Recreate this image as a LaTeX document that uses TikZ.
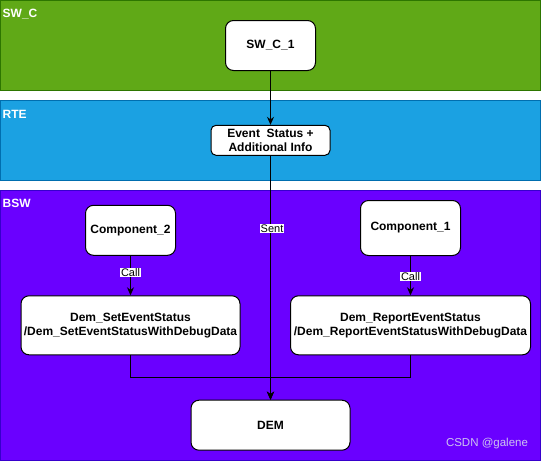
\documentclass[tikz,border=0pt]{standalone}
\usepackage{fontspec}
\setmainfont{Liberation Sans}
\usetikzlibrary{arrows.meta}
\definecolor{swcfill}{HTML}{60A917}
\definecolor{swcdraw}{HTML}{2D7600}
\definecolor{rtefill}{HTML}{1BA1E2}
\definecolor{rtedraw}{HTML}{006EAF}
\definecolor{bswfill}{HTML}{6A00FF}
\definecolor{bswdraw}{HTML}{3700CC}
\definecolor{wmark}{RGB}{205,195,240}
\begin{document}
\begin{tikzpicture}[x=1pt,y=-1pt,
  band/.style={line width=1pt},
  bandlabel/.style={anchor=west,inner sep=0pt,text=white,font=\fontsize{12}{14}\selectfont\bfseries},
  box/.style={draw=black,fill=white,line width=1pt,rounded corners=8pt,inner sep=0pt,align=center,
    font=\fontsize{12}{14}\selectfont\bfseries},
  conn/.style={line width=1pt,draw=black},
  arr/.style={conn,-{Stealth[length=8pt,width=7pt]}},
  lbl/.style={fill=white,inner sep=0.6pt,font=\fontsize{11}{12}\selectfont}
]
\useasboundingbox (0,0) rectangle (541,461);
% bands
\draw[band,fill=swcfill,draw=swcdraw] (0.5,0.5) rectangle (540,90);
\draw[band,fill=rtefill,draw=rtedraw] (0.5,100) rectangle (540,180.5);
\draw[band,fill=bswfill,draw=bswdraw] (0.5,190) rectangle (540,460.5);
\node[bandlabel] (lswc) at (2.5,14) {SW\_C};
\node[bandlabel] (lrte) at (2.5,114) {RTE};
\node[bandlabel] (lbsw) at (2.5,203.5) {BSW};
% nodes
\node[box,minimum width=90pt,minimum height=50pt] (swc1) at (270.5,45.5) {SW\_C\_1};
\node[box,rounded corners=5pt,minimum width=119pt,minimum height=30pt,font=\fontsize{12}{13.5}\selectfont\bfseries] (evt) at (270.5,140.3) {Event\ \ Status +\\Additional Info};
\node[box,minimum width=90pt,minimum height=50pt] (comp2) at (130.5,230.3) {Component\_2};
\node[box,minimum width=100pt,minimum height=55pt] (comp1) at (410.5,228) {Component\_1};
\node[box,minimum width=219pt,minimum height=59pt,font=\fontsize{12}{14}\selectfont\bfseries] (set) at (130.5,325.3) {Dem\_SetEventStatus\\/Dem\_SetEventStatusWithDebugData};
\node[box,minimum width=240pt,minimum height=59pt,font=\fontsize{12}{14}\selectfont\bfseries] (rep) at (410.5,325.3) {Dem\_ReportEventStatus\\/Dem\_ReportEventStatusWithDebugData};
\node[box,minimum width=159pt,minimum height=50pt] (dem) at (270.5,425.2) {DEM};
\coordinate (m) at (270.5,377.7);
% connectors
\draw[arr] (swc1.south) -- (evt.north);
\draw[arr] (evt.south) -- node[lbl,pos=0.30,xshift=1.5pt] (sent) {Sent} (dem.north);
\draw[arr] (comp2.south) -- node[lbl,pos=0.42] (call2) {Call} (set.north);
\draw[arr] (comp1.south) -- node[lbl,pos=0.52] (call1) {Call} (rep.north);
\draw[arr] (set.south) |- (m) -- (dem.north);
\draw[arr] (rep.south) |- (m) -- (dem.north);
% watermark
\node[text=wmark,inner sep=0pt,font=\fontsize{11.5}{13}\selectfont] (wm) at (487,444) {CSDN @galene};
\end{tikzpicture}
\end{document}
